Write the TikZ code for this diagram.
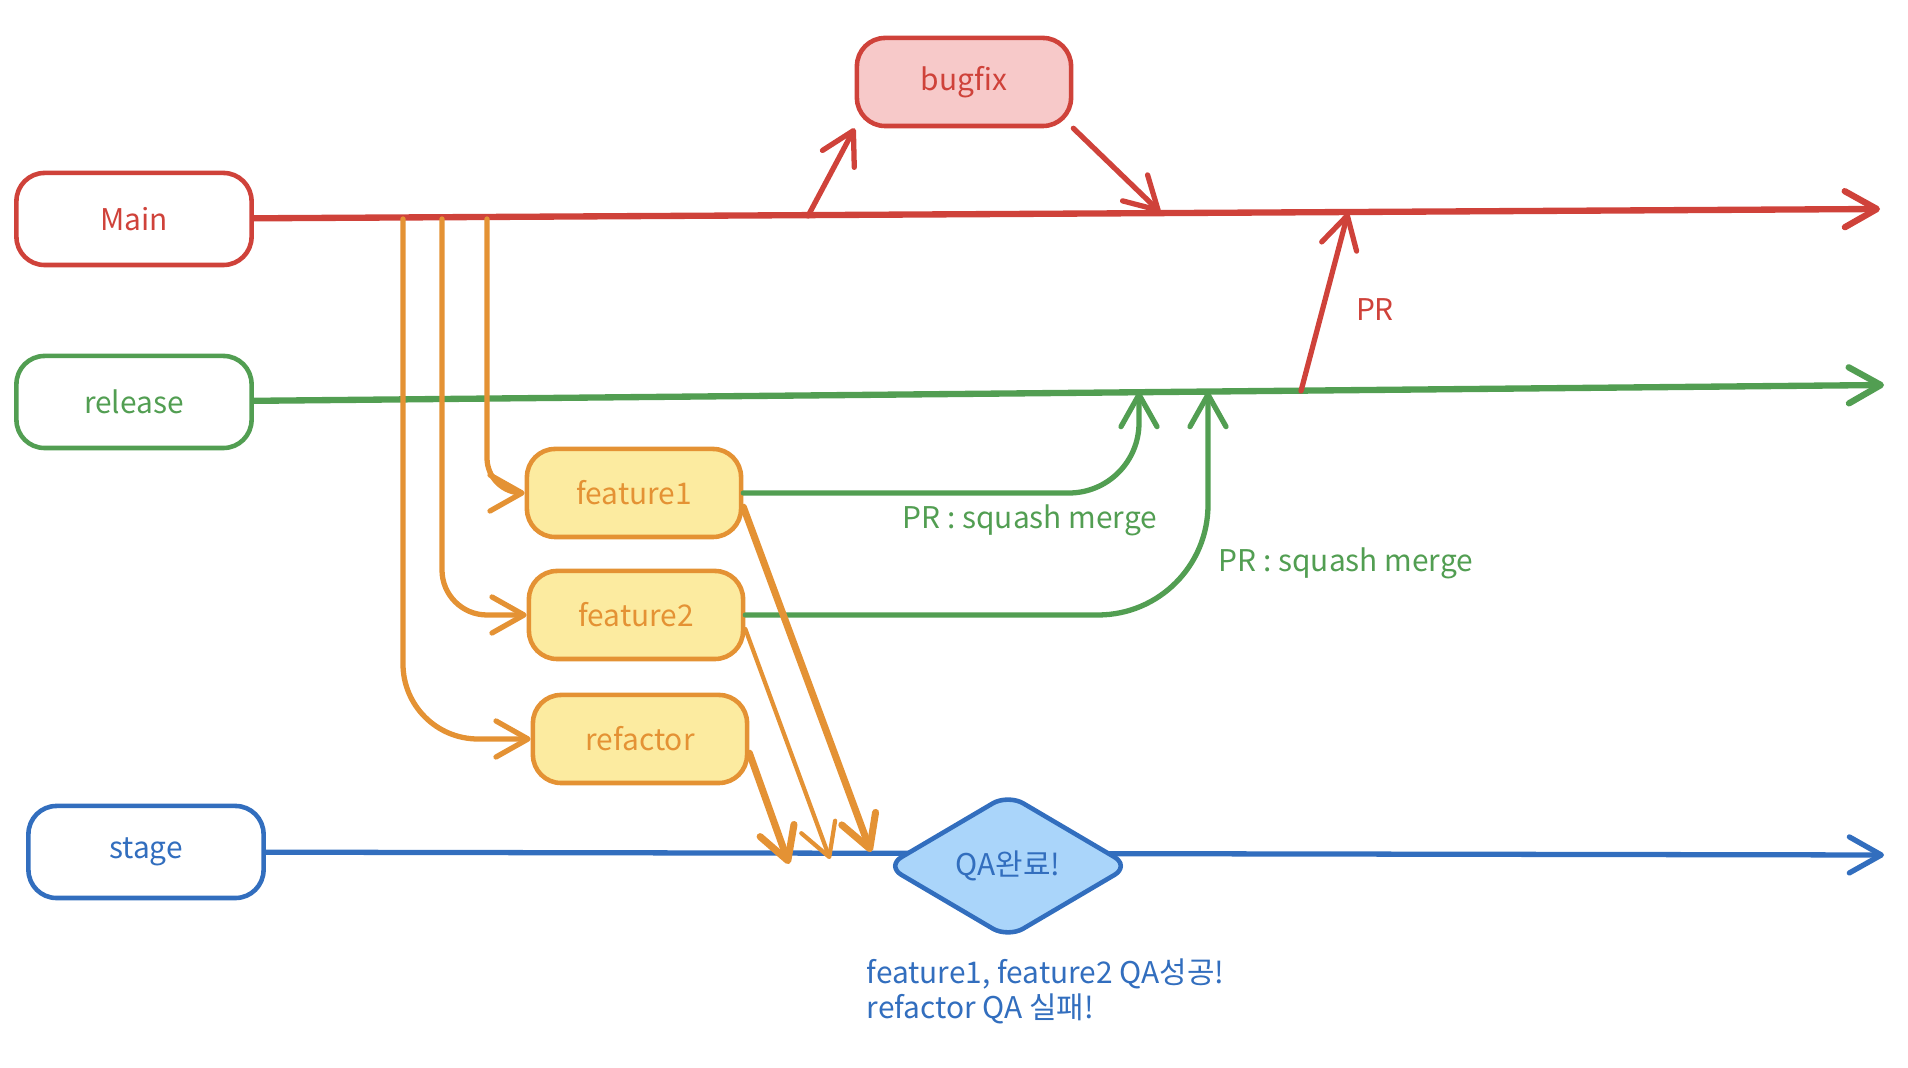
\documentclass[tikz,border=0pt]{standalone}
\usepackage{fontspec}
\setmainfont{Noto Sans CJK KR}
\usetikzlibrary{arrows.meta,shapes.geometric}

\definecolor{cred}{RGB}{207,66,58}
\definecolor{cpink}{RGB}{247,201,201}
\definecolor{cgreen}{RGB}{82,158,82}
\definecolor{corange}{RGB}{228,146,52}
\definecolor{cyellow}{RGB}{252,235,160}
\definecolor{cblue}{RGB}{50,110,190}
\definecolor{clblue}{RGB}{170,213,250}

\tikzset{
  txt/.style={font=\fontsize{8.5}{10}\selectfont},
  branch/.style={draw, txt, rounded corners=8pt, line width=1.3pt,
    minimum width=2.35cm, minimum height=0.92cm},
  task/.style={branch, minimum width=2.14cm, minimum height=0.88cm},
  flow/.style={line width=1.5pt, line cap=round,
    -{Straight Barb[length=3.2mm,width=3.6mm,round]}},
}

\begin{document}
\begin{tikzpicture}[x=0.01cm,y=-0.01cm]
    \useasboundingbox (0,0) rectangle (1908,1068);

    % branches
    \node[branch, draw=cred, text=cred] (main) at (134,219) {Main};
    \node[branch, draw=cgreen, text=cgreen] (release) at (134,402) {release};
    \node[branch, draw=cblue, text=cblue] (stage) at (146,852) {stage};

    % work boxes
    \node[task, draw=cred, fill=cpink, text=cred] (bugfix) at (964,82) {bugfix};
    \node[task, draw=corange, fill=cyellow, text=corange] (feature1) at (634,493) {feature1};
    \node[task, draw=corange, fill=cyellow, text=corange] (feature2) at (636,615) {feature2};
    \node[task, draw=corange, fill=cyellow, text=corange] (refactor) at (640,739) {refactor};

    % points on the lines
    \path (1880,209) coordinate (mainend);
    \path (1884,385) coordinate (releaseend);
    \path (1884,855) coordinate (stageend);
    \path (808,216) coordinate (fix0);
    \path (1160,212) coordinate (fix1);
    \path (1301,391) coordinate (pr0);
    \path (1348,213) coordinate (pr1);
    \path (1139,392) coordinate (sq1);
    \path (1208,392) coordinate (sq2);
    \foreach \x/\n in {487/1,442/2,403/3}
    { \path (\x,219) coordinate (br\n); }
    \path (871,852) coordinate (qa1);
    \path (830,859) coordinate (qa2);
    \path (789,864) coordinate (qa3);

    % main lines
    \draw[flow, cred, line width=1.8pt] (main) -- (mainend);
    \draw[flow, cgreen, line width=1.8pt] (release) -- (releaseend);
    \draw[flow, cblue] (stage) -- (stageend);

    % bugfix and PR
    \draw[flow, cred] (fix0) -- (bugfix.south west);
    \draw[flow, cred] (bugfix.south east) -- (fix1);
    \draw[flow, cred] (pr0) -- (pr1);
    \node[txt, text=cred] (prlabel) at (1375,310) {PR};

    % branching off main
    \draw[flow, corange, rounded corners=0.35cm] (br1) |- (feature1.west);
    \draw[flow, corange, rounded corners=0.45cm] (br2) |- (feature2.west);
    \draw[flow, corange, rounded corners=0.75cm] (br3) |- (refactor.west);

    % squash merges
    \draw[flow, cgreen, rounded corners=0.7cm] (feature1.east) -| (sq1);
    \draw[flow, cgreen, rounded corners=1.1cm] (feature2.east) -| (sq2);
    \node[txt, text=cgreen] (sqlabel1) at (1030,520) {PR : squash merge};
    \node[txt, text=cgreen] (sqlabel2) at (1346,563) {PR : squash merge};

    % to stage
    \draw[flow, corange, line width=2pt] ([yshift=-4pt]feature1.east) -- (qa1);
    \draw[flow, corange, line width=1.2pt] ([yshift=-4pt]feature2.east) -- (qa2);
    \draw[flow, corange, line width=2pt] ([yshift=-4pt]refactor.east) -- (qa3);

    \node[diamond, draw=cblue, fill=clblue, text=cblue, txt, line width=1.3pt,
      minimum width=2.45cm, minimum height=1.45cm, inner sep=0pt,
      rounded corners=5pt] (qa) at (1008,866) {QA완료!};
    \node[txt, text=cblue, anchor=north west, align=left, inner sep=0pt]
      (qanote) at (866,958) {feature1, feature2 QA성공!\\refactor QA 실패!};

  \end{tikzpicture}
\end{document}
